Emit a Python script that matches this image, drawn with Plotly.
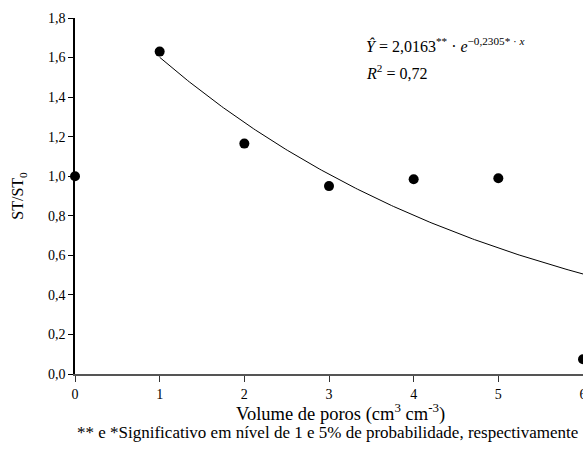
import numpy as np
import plotly.graph_objects as go

pore_volume = [0, 1, 2, 3, 4, 5, 6]
st_ratio = [1.00, 1.63, 1.165, 0.95, 0.985, 0.99, 0.075]

# fitted model shown on chart: Y = a * exp(b * x)
fit_a = 2.0163
fit_b = -0.2305
fit_x_start = 1
fit_x_end = 6

y_ticks = [0.0, 0.2, 0.4, 0.6, 0.8, 1.0, 1.2, 1.4, 1.6, 1.8]
x_ticks = [0, 1, 2, 3, 4, 5, 6]

fit_x = np.linspace(fit_x_start, fit_x_end, 200)
fit_y = fit_a * np.exp(fit_b * fit_x)

serif = "Liberation Serif, Times New Roman, serif"

W, H = 583, 455
ML, MR, MT, MB = 75, 0, 18, 81
plot_w = W - ML - MR
plot_h = H - MT - MB

def px_to_paper(px, py):
    return (px - ML) / plot_w, (H - MB - py) / plot_h

fig = go.Figure()
fig.add_trace(go.Scatter(x=fit_x, y=fit_y, mode="lines",
                         line=dict(color="black", width=1), showlegend=False))
fig.add_trace(go.Scatter(x=pore_volume, y=st_ratio, mode="markers",
                         marker=dict(color="black", size=10), showlegend=False,
                         cliponaxis=False))

ann_specs = [
    (340, 412, "center", "Volume de poros (cm<sup>3</sup> cm<sup>-3</sup>)", 18.5),
    (327, 432, "center", "** e *Significativo em nível de 1 e 5% de probabilidade, respectivamente", 17),
    (364, 45, "left", "<i>Ŷ</i> = 2,0163<sup>**</sup> · <i>e</i><sup>−0,2305* · <i>x</i></sup>", 16),
    (364, 72, "left", "<i>R</i><sup>2</sup> = 0,72", 16),
]
annotations = []
for px, py, xa, txt, sz in ann_specs:
    ax, ay = px_to_paper(px, py)
    annotations.append(dict(x=ax, y=ay, xref="paper", yref="paper", showarrow=False,
                            xanchor=xa, yanchor="middle", text=txt,
                            font=dict(family=serif, size=sz, color="black")))

fig.update_layout(
    width=W, height=H,
    margin=dict(l=ML, r=MR, t=MT, b=MB, autoexpand=False),
    plot_bgcolor="white", paper_bgcolor="white",
    separators=",.",
    font=dict(family=serif, size=14, color="black"),
    xaxis=dict(range=[0, 6], tickvals=x_ticks, showgrid=False, zeroline=False,
               showline=True, linecolor="#555", linewidth=1.5,
               ticks="outside", ticklen=6, tickcolor="#333", automargin=False,
               ticklabeloverflow="allow",
               tickfont=dict(family=serif, size=14)),
    yaxis=dict(range=[0, 1.8], tickvals=y_ticks, tickformat=".1f",
               showgrid=False, zeroline=False, automargin=False,
               showline=True, linecolor="black", linewidth=1.5,
               ticks="outside", ticklen=5, tickcolor="black",
               tickfont=dict(family=serif, size=14),
               title=dict(text="ST/ST<sub>0</sub>", font=dict(family=serif, size=16),
                          standoff=20)),
    annotations=annotations,
)

fig.write_html("out.html", post_script="document.body.style.margin='0';",
               config={"displayModeBar": False})
